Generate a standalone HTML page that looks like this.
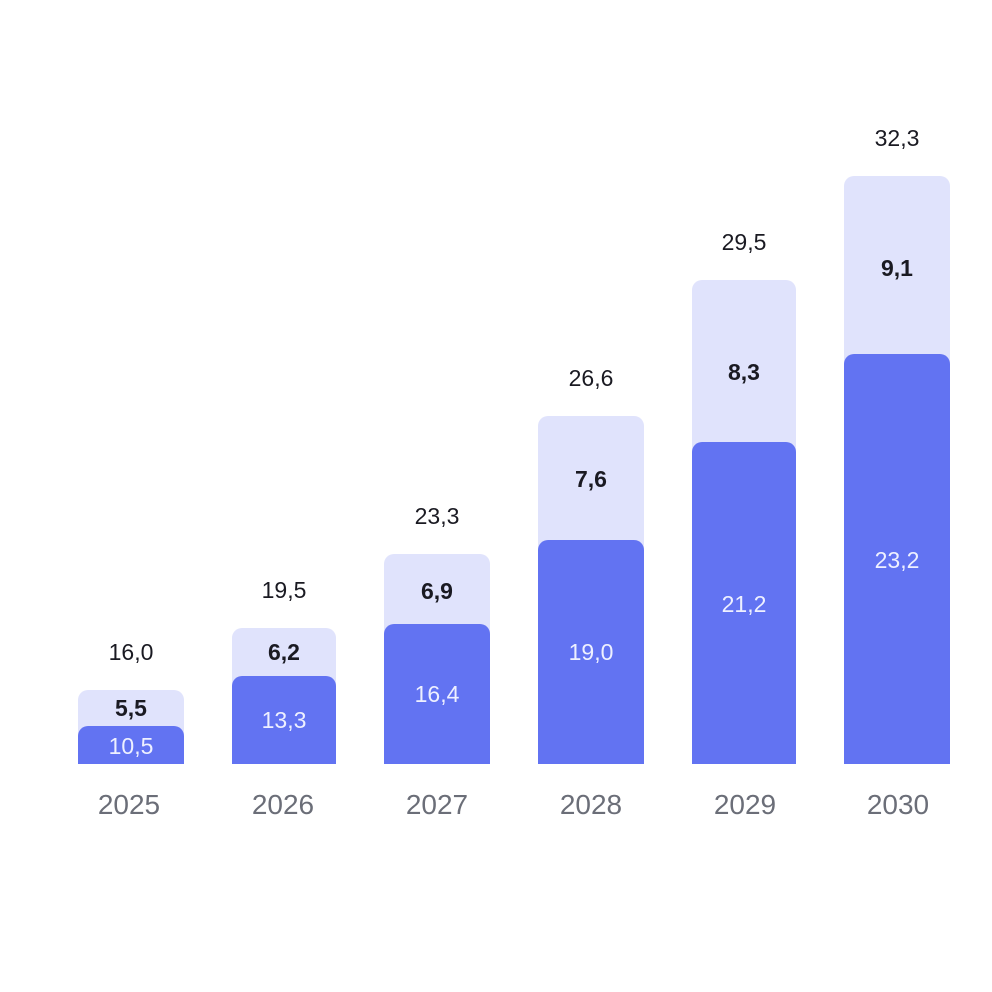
<!DOCTYPE html>
<html><head><style>body{margin:0;background:#fff}svg{display:block}</style></head><body>
<svg width="992" height="992" xmlns="http://www.w3.org/2000/svg" font-family="Liberation Sans, sans-serif">
<rect width="992" height="992" fill="#fff"/>
<g id="bars">
<path d="M78 700a10 10 0 0 1 10-10h86a10 10 0 0 1 10 10V764H78Z" fill="#e0e3fc"/>
<path d="M78 736a10 10 0 0 1 10-10h86a10 10 0 0 1 10 10V764H78Z" fill="#6273f2"/>
<path d="M232 638a10 10 0 0 1 10-10h84a10 10 0 0 1 10 10V764H232Z" fill="#e0e3fc"/>
<path d="M232 686a10 10 0 0 1 10-10h84a10 10 0 0 1 10 10V764H232Z" fill="#6273f2"/>
<path d="M384 564a10 10 0 0 1 10-10h86a10 10 0 0 1 10 10V764H384Z" fill="#e0e3fc"/>
<path d="M384 634a10 10 0 0 1 10-10h86a10 10 0 0 1 10 10V764H384Z" fill="#6273f2"/>
<path d="M538 426a10 10 0 0 1 10-10h86a10 10 0 0 1 10 10V764H538Z" fill="#e0e3fc"/>
<path d="M538 550a10 10 0 0 1 10-10h86a10 10 0 0 1 10 10V764H538Z" fill="#6273f2"/>
<path d="M692 290a10 10 0 0 1 10-10h84a10 10 0 0 1 10 10V764H692Z" fill="#e0e3fc"/>
<path d="M692 452a10 10 0 0 1 10-10h84a10 10 0 0 1 10 10V764H692Z" fill="#6273f2"/>
<path d="M844 186a10 10 0 0 1 10-10h86a10 10 0 0 1 10 10V764H844Z" fill="#e0e3fc"/>
<path d="M844 364a10 10 0 0 1 10-10h86a10 10 0 0 1 10 10V764H844Z" fill="#6273f2"/>
</g>
<g font-size="23" text-anchor="middle" fill="#1a1a22">
<text x="131" y="660">16,0</text><text x="284" y="598">19,5</text><text x="437" y="524">23,3</text>
<text x="591" y="386">26,6</text><text x="744" y="250">29,5</text><text x="897" y="146">32,3</text>
</g>
<g font-size="23" font-weight="bold" text-anchor="middle" fill="#1a1a22">
<text x="131" y="716">5,5</text><text x="284" y="660">6,2</text><text x="437" y="599">6,9</text>
<text x="591" y="487">7,6</text><text x="744" y="380">8,3</text><text x="897" y="276">9,1</text>
</g>
<g font-size="23" text-anchor="middle" fill="#eef0ff">
<text x="131" y="754">10,5</text><text x="284" y="728">13,3</text><text x="437" y="702">16,4</text>
<text x="591" y="660">19,0</text><text x="744" y="612">21,2</text><text x="897" y="568">23,2</text>
</g>
<g font-size="28" text-anchor="middle" fill="#6b6e78">
<text x="129" y="814">2025</text><text x="283" y="814">2026</text><text x="437" y="814">2027</text>
<text x="591" y="814">2028</text><text x="745" y="814">2029</text><text x="898" y="814">2030</text>
</g>
</svg>
</body></html>
